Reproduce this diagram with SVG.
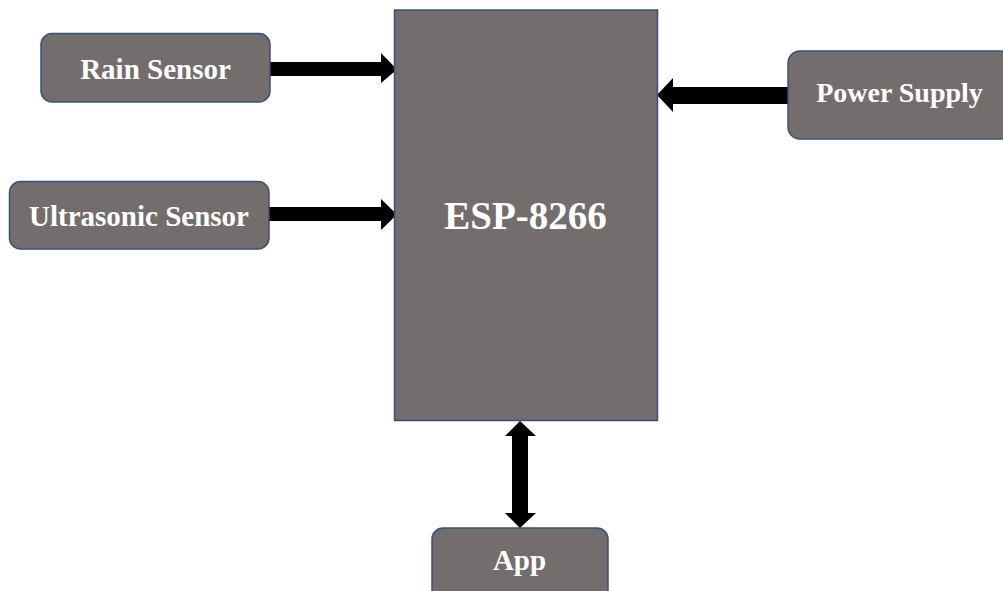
<svg xmlns="http://www.w3.org/2000/svg" width="1003" height="591" viewBox="0 0 1003 591">
<style>
.box{fill:#736e6d;stroke:#3b5075;stroke-width:1.5}
.lbl{font-family:"Liberation Serif","Times New Roman",serif;font-weight:bold;fill:#ffffff;text-anchor:middle;font-size:29px}
.big{font-size:39px}
.arr{fill:#000000}
</style>
<rect width="1003" height="591" fill="#ffffff"/>
<g id="connectors">
<polygon class="arr" points="270,62 381,62 381,53 397,69.5 381,83 381,76 270,76"/>
<polygon class="arr" points="269,207 381,207 381,199 397,214.5 381,230 381,221 269,221"/>
<polygon class="arr" points="788,87 673,87 673,78 657,95 673,112 673,104 788,104"/>
<polygon class="arr" points="520,421 536,436 528,436 528,513 536,513 520,528 505,513 512,513 512,436 505,436"/>
</g>
<g id="esp">
<rect class="box" x="394.5" y="10" width="263" height="410.5"/>
<text class="lbl big" x="525.5" y="229">ESP-8266</text>
</g>
<g id="rain">
<rect class="box" x="41" y="33.5" width="229" height="68.5" rx="11"/>
<text class="lbl" x="155.5" y="79">Rain Sensor</text>
</g>
<g id="ultrasonic">
<rect class="box" x="9.5" y="181.5" width="259.5" height="67.5" rx="11"/>
<text class="lbl" x="139" y="226">Ultrasonic Sensor</text>
</g>
<g id="power">
<rect class="box" x="788" y="51" width="225" height="88" rx="12"/>
<text class="lbl" x="899.5" y="102" style="font-size:28px">Power Supply</text>
</g>
<g id="app">
<rect class="box" x="432" y="528" width="176" height="75" rx="11"/>
<text class="lbl" x="519.5" y="570">App</text>
</g>
</svg>
